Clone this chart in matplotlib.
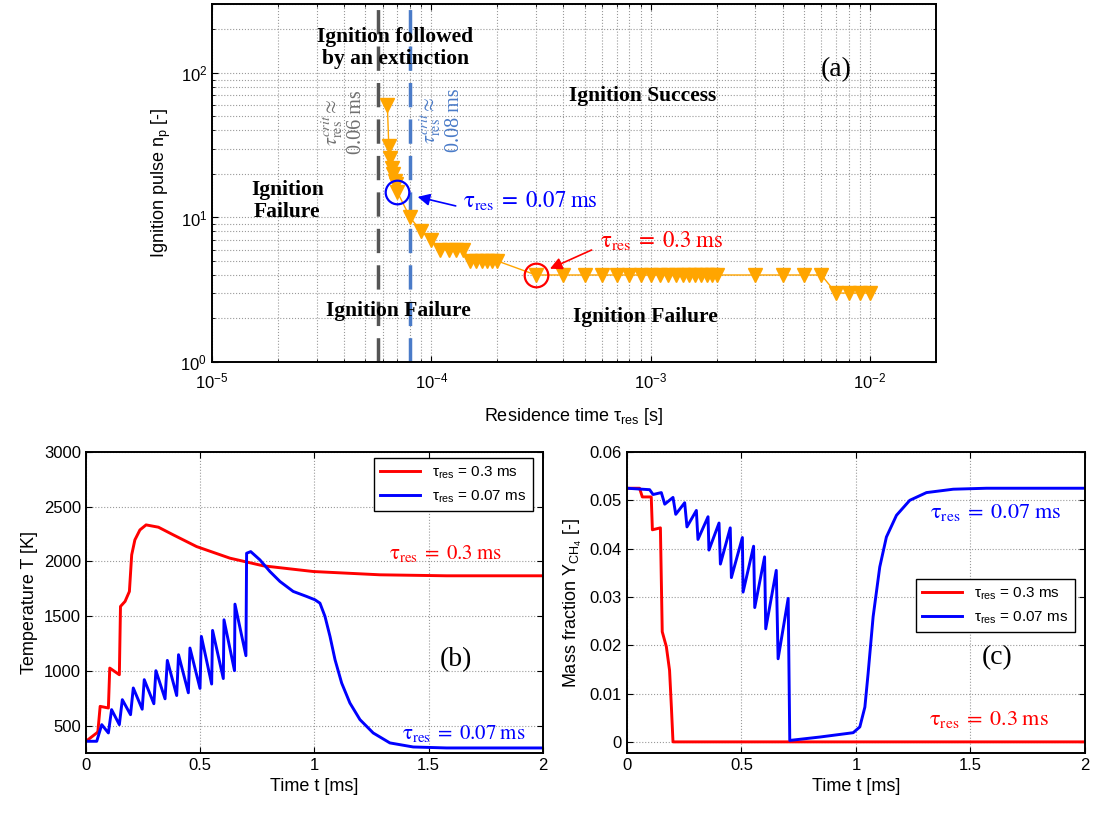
import numpy as np
import matplotlib.pyplot as plt

# ---- (a) ignition map ----
tau_res = [6.3e-5, 6.4e-5, 6.5e-5, 6.6e-5, 6.7e-5, 6.8e-5, 6.9e-5, 7.0e-5,
           8e-5, 9e-5, 1.0e-4, 1.1e-4, 1.2e-4, 1.3e-4, 1.4e-4,
           1.5e-4, 1.6e-4, 1.7e-4, 1.8e-4, 1.9e-4, 2.0e-4,
           3e-4, 4e-4, 5e-4, 6e-4, 7e-4, 8e-4, 9e-4,
           1.0e-3, 1.1e-3, 1.2e-3, 1.3e-3, 1.4e-3, 1.5e-3, 1.6e-3, 1.7e-3, 1.8e-3, 1.9e-3, 2.0e-3,
           3e-3, 4e-3, 5e-3, 6e-3, 7e-3, 8e-3, 9e-3, 1e-2]
n_pulse = [60, 31, 26, 22, 20, 18, 17, 15,
           10, 8, 7, 6, 6, 6, 6,
           5, 5, 5, 5, 5, 5,
           4, 4, 4, 4, 4, 4, 4,
           4, 4, 4, 4, 4, 4, 4, 4, 4, 4, 4,
           4, 4, 4, 4, 3, 3, 3, 3]
tau_crit = [5.7e-5, 8.0e-5]
i_short = 7    # tau = 0.07 ms
i_long = 21    # tau = 0.3 ms

# ---- (b) temperature ----
t_T_long = [0, 0.047, 0.052, 0.062, 0.098, 0.104, 0.146, 0.151, 0.171, 0.19, 0.2, 0.214,
            0.236, 0.263, 0.317, 0.382, 0.484, 0.63, 0.776, 0.995, 1.287, 1.578, 2.0]
T_long = [357, 433, 445, 676, 661, 1026, 965, 1589, 1635, 1726, 2060, 2197,
          2288, 2334, 2313, 2243, 2136, 2030, 1960, 1908, 1878, 1869, 1869]

t_T_short = [0, 0.047, 0.069, 0.098, 0.112, 0.146, 0.159, 0.195, 0.207, 0.246, 0.255,
             0.297, 0.306, 0.346, 0.356, 0.397, 0.405, 0.448, 0.455, 0.499, 0.505,
             0.550, 0.554, 0.601, 0.604, 0.650, 0.652, 0.700, 0.703, 0.721,
             0.761, 0.805, 0.849, 0.907, 0.966, 1.002, 1.024, 1.046, 1.068, 1.090,
             1.119, 1.155, 1.199, 1.257, 1.33, 1.432, 1.578, 2.0]
T_short = [357, 357, 509, 433, 646, 509, 737, 600, 844, 650, 920,
           700, 1002, 745, 1096, 775, 1148, 800, 1209, 840, 1315,
           880, 1370, 930, 1467, 1002, 1610, 1139, 2075, 2090,
           2015, 1908, 1817, 1726, 1680, 1650, 1619, 1498, 1315, 1102,
           889, 707, 555, 433, 342, 305, 296, 296]

# ---- (c) CH4 mass fraction ----
t_Y_long = [0, 0.055, 0.067, 0.106, 0.111, 0.146, 0.154, 0.172, 0.186, 0.194, 0.201, 2.0]
Y_long = [0.0525, 0.0525, 0.0507, 0.0507, 0.0439, 0.0443, 0.0228, 0.0197, 0.0148, 0.0072, 0.0, 0.0]

t_Y_short = [0, 0.099, 0.114, 0.15, 0.165, 0.201, 0.213, 0.252, 0.262, 0.303, 0.31,
             0.354, 0.358, 0.402, 0.408, 0.451, 0.456, 0.504, 0.507, 0.553, 0.558,
             0.601, 0.606, 0.652, 0.66, 0.704, 0.711, 0.842, 0.988, 1.017, 1.039,
             1.053, 1.075, 1.104, 1.133, 1.177, 1.235, 1.308, 1.425, 1.57, 2.0]
Y_short = [0.0525, 0.0522, 0.0512, 0.0516, 0.0492, 0.0506, 0.0471, 0.0495, 0.0445, 0.0479, 0.0419,
           0.0466, 0.0397, 0.0453, 0.0368, 0.0443, 0.034, 0.0423, 0.031, 0.0405, 0.0278,
           0.0383, 0.0234, 0.0355, 0.0172, 0.0297, 0.0003, 0.001, 0.0019, 0.0031, 0.0072,
           0.0141, 0.0259, 0.0362, 0.0424, 0.0469, 0.05, 0.0516, 0.0523, 0.0525, 0.0525]

t_ticks = [0, 0.5, 1, 1.5, 2]
t_labels = ['0', '0.5', '1', '1.5', '2']
T_ticks = [500, 1000, 1500, 2000, 2500, 3000]
Y_ticks = [0, 0.01, 0.02, 0.03, 0.04, 0.05, 0.06]
Y_labels = ['0', '0.01', '0.02', '0.03', '0.04', '0.05', '0.06']

plt.rcParams['font.family'] = 'Liberation Sans'
plt.rcParams['mathtext.fontset'] = 'custom'
plt.rcParams['mathtext.rm'] = 'Liberation Sans'
plt.rcParams['mathtext.it'] = 'Liberation Sans:italic'
plt.rcParams['mathtext.bf'] = 'Liberation Sans:bold'
plt.rcParams['font.size'] = 12
plt.rcParams['axes.linewidth'] = 1.4
plt.rcParams['xtick.direction'] = 'in'
plt.rcParams['ytick.direction'] = 'in'
plt.rcParams['xtick.major.size'] = 4.5
plt.rcParams['ytick.major.size'] = 4.5
plt.rcParams['xtick.minor.size'] = 2.5
plt.rcParams['ytick.minor.size'] = 2.5

RED = '#ff0000'
BLUE = '#0000ff'
ORANGE = '#ffa500'
serif = dict(family='Liberation Serif', math_fontfamily='stix')


def tau_txt(tau):
    # serif annotation with wide spacing round "="
    return r'$\mathrm{\tau_{res}}\;=\;\mathrm{' + f'{tau * 1e3:g}' + r'\;ms}$'


def tau_leg(tau):
    return r'$\mathrm{\tau_{res}}$ = ' + f'{tau * 1e3:g} ms'


def style(ax):
    ax.tick_params(which='both', top=True, right=True, labelsize=12)
    ax.grid(True, linestyle=':', color='#9a9a9a', lw=0.8)


fig = plt.figure(figsize=(10.94, 8.19), dpi=100)
ax_a = fig.add_axes([0.1938, 0.558, 0.6618, 0.4371])
ax_b = fig.add_axes([0.0786, 0.0806, 0.4177, 0.3675])
ax_c = fig.add_axes([0.5731, 0.0806, 0.4186, 0.3675])

# (a)
ax_a.set_xscale('log')
ax_a.set_yscale('log')
ax_a.set_xlim(1e-5, 2e-2)
ax_a.set_ylim(1, 300)
style(ax_a)
ax_a.tick_params(axis='x', pad=7)
ax_a.grid(True, which='minor', linestyle=':', color='#9a9a9a', lw=0.8)

ax_a.axvline(tau_crit[0], color='#555555', lw=2.5, dashes=(7, 3.5))
ax_a.axvline(tau_crit[1], color='#4a7bc8', lw=2.5, dashes=(7, 3.5))
ax_a.plot(tau_res, n_pulse, '-', color=ORANGE, lw=1, marker='v', ms=10, mec=ORANGE, mfc=ORANGE)

ax_a.plot(tau_res[i_short], n_pulse[i_short], 'o', mfc='none', mec=BLUE, ms=17, mew=1.6)
ax_a.plot(tau_res[i_long], n_pulse[i_long], 'o', mfc='none', mec=RED, ms=17, mew=1.6)

arrow = dict(arrowstyle='-|>', lw=1.2, mutation_scale=18, shrinkA=0)
ax_a.annotate('', xy=(tau_res[i_short], n_pulse[i_short]), xytext=(42, -10),
              textcoords='offset points',
              arrowprops=dict(arrow, color=BLUE, shrinkB=15))
ax_a.annotate('', xy=(tau_res[i_long], n_pulse[i_long]), xytext=(40, 18),
              textcoords='offset points',
              arrowprops=dict(arrow, color=RED, shrinkB=11))
ax_a.text(0.347, 0.450, tau_txt(tau_res[i_short]), transform=ax_a.transAxes,
          ha='left', va='center', fontsize=16.5, color=BLUE, **serif)
ax_a.text(0.536, 0.338, tau_txt(tau_res[i_long]), transform=ax_a.transAxes,
          ha='left', va='center', fontsize=16.5, color=RED, **serif)

ax_a.text(0.180, 0.670, r'$\tau^{crit}_{\mathrm{res}}\approx$' + '\n' + f'{tau_crit[0] * 1e3:.2f} ms',
          transform=ax_a.transAxes, rotation=90, ha='center', va='center',
          fontsize=14.5, color='#707070', linespacing=1.15, **serif)
ax_a.text(0.316, 0.676, r'$\tau^{crit}_{\mathrm{res}}\approx$' + '\n' + f'{tau_crit[1] * 1e3:.2f} ms',
          transform=ax_a.transAxes, rotation=90, ha='center', va='center',
          fontsize=14.5, color='#4a7bc8', linespacing=1.15, **serif)

bold = dict(family='Liberation Serif', fontweight='bold', fontsize=15.5, ha='center', va='center',
            transform=ax_a.transAxes)
ax_a.text(0.253, 0.877, 'Ignition followed\nby an extinction', linespacing=1.15, **bold)
ax_a.text(0.595, 0.743, 'Ignition Success', **bold)
ax_a.text(0.104, 0.450, 'Ignition\nFailure', linespacing=1.15, **bold)
ax_a.text(0.257, 0.142, 'Ignition Failure', **bold)
ax_a.text(0.599, 0.126, 'Ignition Failure', **bold)
ax_a.text(0.862, 0.816, '(a)', transform=ax_a.transAxes, ha='center', va='center',
          fontsize=20, family='Liberation Serif')

ax_a.set_xlabel(r'Residence time $\mathrm{\tau_{res}}$ [s]', fontsize=13, labelpad=10)
ax_a.set_ylabel(r'Ignition pulse n$_\mathrm{p}$ [-]', fontsize=13, labelpad=5)

# (b)
ax_b.plot(t_T_long, T_long, color=RED, lw=2.1, label=tau_leg(tau_res[i_long]))
ax_b.plot(t_T_short, T_short, color=BLUE, lw=2.1, label=tau_leg(tau_res[i_short]))
ax_b.set_xlim(0, 2)
ax_b.set_ylim(250, 3000)
ax_b.set_xticks(t_ticks, t_labels)
ax_b.set_yticks(T_ticks)
style(ax_b)
ax_b.legend(loc='upper right', bbox_to_anchor=(0.978, 0.98), borderaxespad=0, fontsize=11,
            fancybox=False, edgecolor='black', framealpha=1, handlelength=2.6)
ax_b.text(0.786, 0.664, tau_txt(tau_res[i_long]), transform=ax_b.transAxes, ha='center',
          va='center', fontsize=15, color=RED, **serif)
ax_b.text(0.826, 0.066, tau_txt(tau_res[i_short]), transform=ax_b.transAxes, ha='center',
          va='center', fontsize=15, color=BLUE, **serif)
ax_b.text(0.81, 0.309, '(b)', transform=ax_b.transAxes, ha='center', va='center',
          fontsize=20, family='Liberation Serif')
ax_b.set_xlabel('Time t [ms]', fontsize=13)
ax_b.set_ylabel('Temperature T [K]', fontsize=13)

# (c)
ax_c.plot(t_Y_long, Y_long, color=RED, lw=2.1, label=tau_leg(tau_res[i_long]))
ax_c.plot(t_Y_short, Y_short, color=BLUE, lw=2.1, label=tau_leg(tau_res[i_short]))
ax_c.set_xlim(0, 2)
ax_c.set_ylim(-0.0023, 0.06)
ax_c.set_xticks(t_ticks, t_labels)
ax_c.set_yticks(Y_ticks, Y_labels)
style(ax_c)
ax_c.legend(loc='upper right', bbox_to_anchor=(0.978, 0.578), borderaxespad=0, fontsize=11,
            fancybox=False, edgecolor='black', framealpha=1, handlelength=2.6)
ax_c.text(0.806, 0.80, tau_txt(tau_res[i_short]), transform=ax_c.transAxes, ha='center',
          va='center', fontsize=16, color=BLUE, **serif)
ax_c.text(0.79, 0.11, tau_txt(tau_res[i_long]), transform=ax_c.transAxes, ha='center',
          va='center', fontsize=16, color=RED, **serif)
ax_c.text(0.808, 0.316, '(c)', transform=ax_c.transAxes, ha='center', va='center',
          fontsize=20, family='Liberation Serif')
ax_c.set_xlabel('Time t [ms]', fontsize=13)
ax_c.set_ylabel(r'Mass fraction Y$_\mathrm{CH_4}$ [-]', fontsize=13)

fig.savefig('out.png', dpi=100)
